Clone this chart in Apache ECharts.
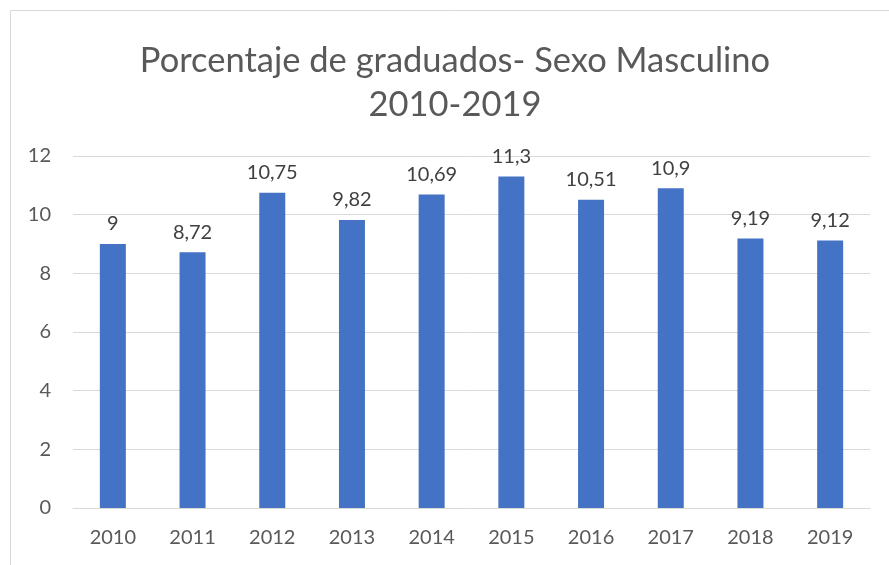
<!DOCTYPE html>
<html>
<head>
<meta charset="utf-8">
<script src="https://cdn.jsdelivr.net/npm/echarts@6/dist/echarts.min.js"></script>
<style>
  html, body { margin: 0; padding: 0; background: #fff; }
  #main { width: 889px; height: 565px; }
</style>
</head>
<body>
<div id="main"></div>
<script>
var years = ['2010', '2011', '2012', '2013', '2014', '2015', '2016', '2017', '2018', '2019']
var values = [9, 8.72, 10.75, 9.82, 10.69, 11.3, 10.51, 10.9, 9.19, 9.12]
var titleLines = ['Porcentaje de graduados- Sexo Masculino', '2010-2019']

var myChart = echarts.init(document.getElementById('main'))

var option = {
  backgroundColor: '#fff',
  textStyle: { fontFamily: 'Lato' },
  graphic: [
    {
      type: 'rect',
      shape: { x: 10.5, y: 10.5, width: 900, height: 600 },
      style: { fill: 'none', stroke: '#d9d9d9', lineWidth: 1 },
      silent: true
    }
  ],
  title: {
    text: titleLines.join('\n'),
    left: 450,
    top: 34,
    textAlign: 'center',
    textStyle: {
      fontFamily: 'Lato',
      fontWeight: 'normal',
      fontSize: 34.5,
      color: '#595959',
      lineHeight: 44
    }
  },
  grid: {
    left: 73,
    right: 19,
    top: 156,
    bottom: 57
  },
  xAxis: {
    type: 'category',
    data: years,
    axisTick: { show: false },
    axisLine: { lineStyle: { color: '#d9d9d9', width: 1 } },
    axisLabel: { color: '#595959', fontSize: 20, margin: 20 }
  },
  yAxis: {
    type: 'value',
    min: 0,
    max: 12,
    interval: 2,
    axisLine: { show: false },
    axisTick: { show: false },
    axisLabel: { color: '#595959', fontSize: 20, margin: 22 },
    splitLine: { lineStyle: { color: '#d9d9d9', width: 1 } }
  },
  series: [
    {
      type: 'bar',
      data: values,
      barWidth: 26,
      itemStyle: { color: '#4472C4' },
      label: {
        show: true,
        position: 'top',
        distance: 10,
        color: '#404040',
        fontSize: 20,
        formatter: function (p) { return String(p.value).replace('.', ',') }
      }
    }
  ]
}

myChart.setOption(option)
</script>
</body>
</html>
